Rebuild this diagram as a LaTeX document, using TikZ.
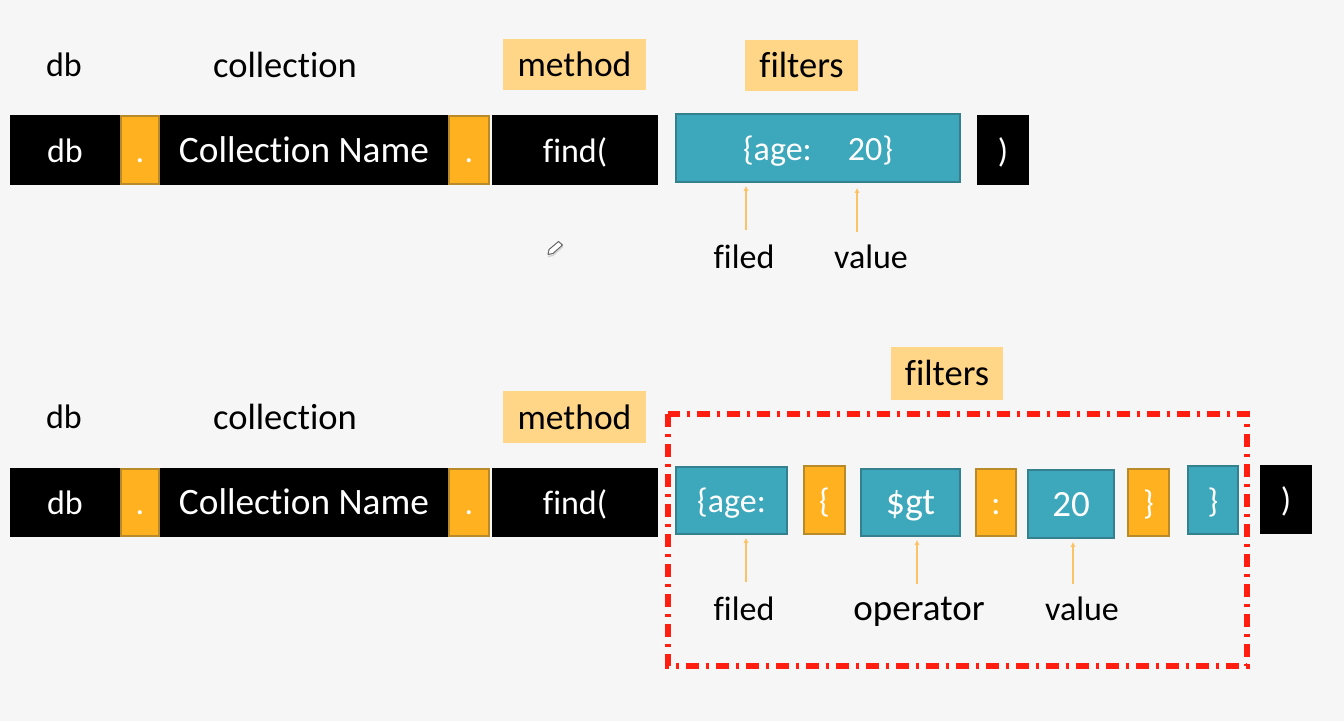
\documentclass[tikz,border=0pt]{standalone}
\usepackage{fontspec}
\setmainfont[Ligatures=NoCommon]{Carlito}
\definecolor{bgc}{HTML}{F6F6F6}
\definecolor{tealc}{HTML}{3DA8BB}
\definecolor{tealb}{HTML}{35808F}
\definecolor{orc}{HTML}{FFB11F}
\definecolor{orb}{HTML}{B98A2A}
\definecolor{lab}{HTML}{FFD587}
\definecolor{redc}{HTML}{FF1E10}
\definecolor{arrc}{HTML}{FBC266}
\newcommand{\bx}[7][]{%
  \pgfmathsetmacro{\bxw}{#5-#3}\pgfmathsetmacro{\bxh}{#6-#4}%
  \pgfmathsetmacro{\bxx}{(#3+#5)/2}\pgfmathsetmacro{\bxy}{(#4+#6)/2}%
  \node[#1,minimum width=\bxw pt,minimum height=\bxh pt] (#2) at (\bxx,\bxy) {#7};}
\tikzset{
  sz/.style={font=\fontsize{#1}{#1}\selectfont},
  txt/.style={sz=34,inner sep=0pt,text height=30pt,text depth=6pt},
  black box/.style={txt,fill=black,text=white},
  teal box/.style={txt,fill=tealc,draw=tealb,line width=1.6pt,text=white},
  orange box/.style={txt,fill=orc,draw=orb,line width=1.6pt,text=white},
  tag/.style={txt,fill=lab,text=black},
  plain/.style={txt,text=black},
  pointer/.style={draw=arrc,line width=1.1pt,-{Latex[length=5pt,width=5pt]},shorten >=3pt},
  redframe/.style={draw=redc,line width=5.5pt,dash pattern=on 13pt off 7pt on 3pt off 7pt}
}
\usetikzlibrary{arrows.meta}
\begin{document}
\begin{tikzpicture}[x=1pt,y=-1pt]
\path[fill=bgc] (0,0) rectangle (1344,721);
\useasboundingbox (0,0) rectangle (1344,721);
% row 1
\node[plain] (lbdbA) at (64,64) {db};
\node[plain,sz=36.5] (lbcoA) at (285,65) {collection};
\bx[tag,sz=35.5]{lbmeA}{503}{39}{646}{90}{method}
\bx[tag,sz=36.5]{lbfiA}{745}{40}{858}{91}{filters}
\bx[black box]{dbA}{10}{115}{120}{185}{db}
\bx[black box,sz=37.3]{colA}{160}{115}{448}{185}{Collection Name}
\bx[orange box]{dotAa}{121}{116}{159}{184}{.}
\bx[orange box]{dotAb}{449}{116}{489}{184}{.}
\bx[black box]{findA}{492}{115}{658}{185}{find(}
\bx[teal box]{ageA}{676}{114}{960}{182}{\{age:\hspace{36pt}20\}}
\bx[black box]{closeA}{977}{115}{1029}{185}{)}
\node[plain] (filedA) at (744,256) {filed};
\node[plain] (valueA) at (871,256) {value};
\coordinate (tailAa) at (746,230);
\coordinate (tailAb) at (857,232);
\draw[pointer] (tailAa) -- (tailAa |- ageA.south);
\draw[pointer,shorten >=5pt] (tailAb) -- (tailAb |- ageA.south);
% pencil
\draw[gray!35,line width=1.2pt] (548,256.5) -- (553,255.5) -- (563,246.5);
\draw[black!60,fill=white,line width=1pt,line join=round] (548,254.5) -- (549,249.5) -- (558.5,241.5) -- (562.5,245) -- (553,253.5) -- cycle;
% row 2
\node[plain] (lbdbB) at (64,416) {db};
\node[plain,sz=36.5] (lbcoB) at (285,417) {collection};
\bx[tag,sz=35.5]{lbmeB}{503}{391}{646}{443}{method}
\bx[tag,sz=36.5]{lbfiB}{891}{347}{1003}{400}{filters}
\draw[redframe] (668,414) rectangle (1247,666);
\bx[black box]{dbB}{10}{468}{120}{537}{db}
\bx[black box,sz=37.3]{colB}{160}{468}{448}{537}{Collection Name}
\bx[orange box]{dotBa}{121}{469}{159}{536}{.}
\bx[orange box]{dotBb}{449}{469}{489}{536}{.}
\bx[black box]{findB}{492}{468}{658}{537}{find(}
\bx[teal box]{ageB}{676}{467}{787}{534}{\{age:}
\bx[orange box]{braceBa}{804}{466}{845}{534}{\{}
\bx[teal box,sz=38]{opB}{861}{469}{960}{536}{\$gt}
\bx[orange box]{colonB}{976}{469}{1016}{536}{:}
\bx[teal box,sz=37]{numB}{1028}{470}{1114}{538}{20}
\bx[orange box]{braceBb}{1128}{469}{1169}{536}{\}}
\bx[teal box]{braceBc}{1188}{466}{1238}{534}{\}}
\bx[black box]{closeB}{1260}{465}{1312}{534}{)}
\node[plain] (filedB) at (744,608) {filed};
\node[plain,sz=37] (operB) at (919,608) {operator};
\node[plain] (valueB) at (1082,608) {value};
\coordinate (tailBa) at (746,582);
\coordinate (tailBb) at (917,584);
\coordinate (tailBc) at (1073,584);
\draw[pointer] (tailBa) -- (tailBa |- ageB.south);
\draw[pointer] (tailBb) -- (tailBb |- opB.south);
\draw[pointer] (tailBc) -- (tailBc |- numB.south);
\end{tikzpicture}
\end{document}
